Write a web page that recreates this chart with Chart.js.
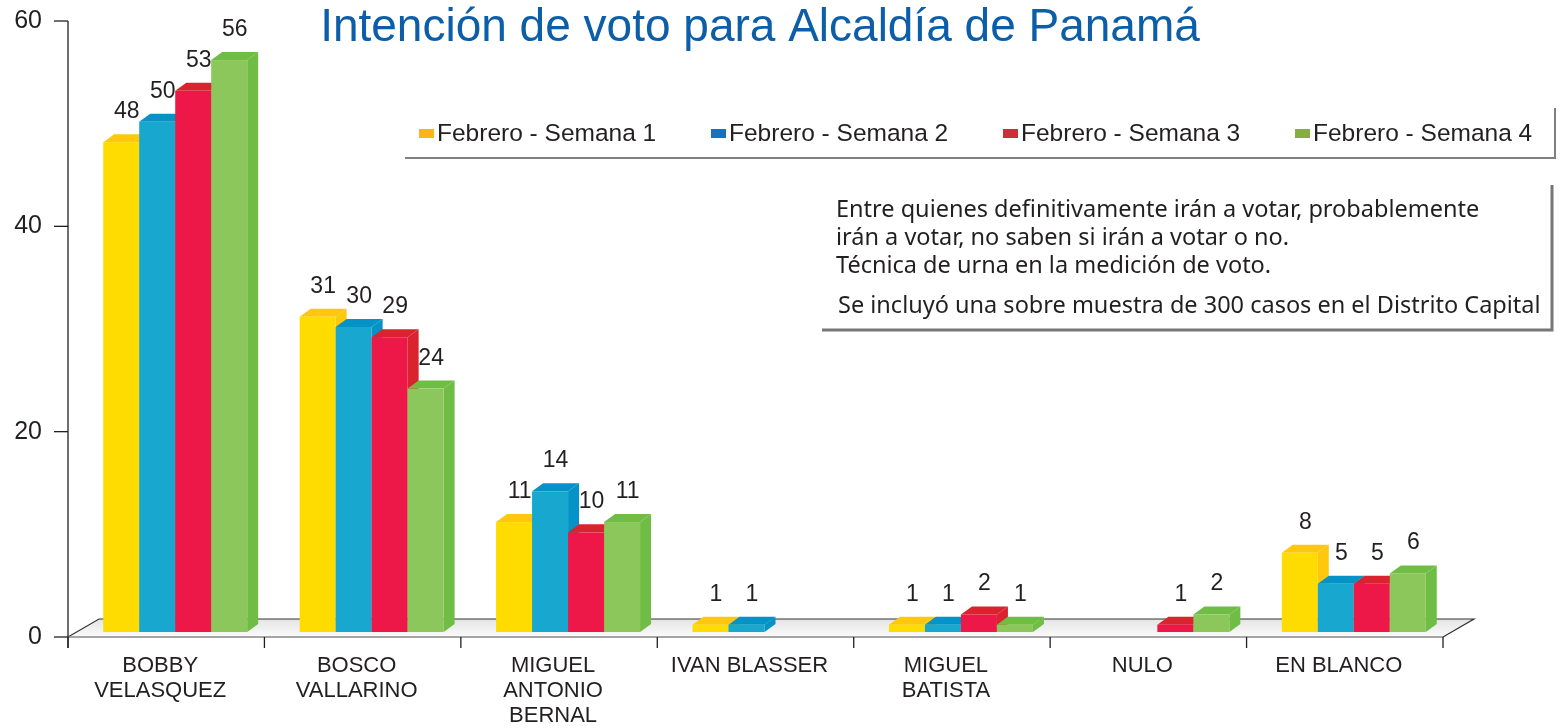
<!DOCTYPE html>
<html>
<head>
<meta charset="utf-8">
<script src="https://cdn.jsdelivr.net/npm/chart.js@4"></script>
<style>
  html, body { margin: 0; padding: 0; background: #fff; }
  #wrap { width: 1564px; height: 728px; position: relative; }
</style>
</head>
<body>
<div id="wrap"><canvas id="chart"></canvas></div>
<script>
// Data
const categories = [
    ['BOBBY', 'VELASQUEZ'],
    ['BOSCO', 'VALLARINO'],
    ['MIGUEL', 'ANTONIO', 'BERNAL'],
    ['IVAN BLASSER'],
    ['MIGUEL', 'BATISTA'],
    ['NULO'],
    ['EN BLANCO']
];
const seriesNames = ['Febrero - Semana 1', 'Febrero - Semana 2', 'Febrero - Semana 3', 'Febrero - Semana 4'];
const semana1 = [48, 31, 11, 1, 1, null, 8];
const semana2 = [50, 30, 14, 1, 1, null, 5];
const semana3 = [53, 29, 10, null, 2, 1, 5];
const semana4 = [56, 24, 11, null, 1, 2, 6];
const yTicks = [0, 20, 40, 60];

const title = 'Intención de voto para Alcaldía de Panamá';
const noteLines = [
    'Entre quienes definitivamente irán a votar, probablemente',
    'irán a votar, no saben si irán a votar o no.',
    'Técnica de urna en la medición de voto.'
];
const noteLast = 'Se incluyó una sobre muestra de 300 casos en el Distrito Capital';

// colours: front, top, side, legend swatch
const palette = [
    { front: '#ffdc00', top: '#ffc80c', side: '#ffc80c', legend: '#fbb616' },
    { front: '#17a7cf', top: '#0592c6', side: '#0592c6', legend: '#1572bb' },
    { front: '#ee1848', top: '#d9232e', side: '#d9232e', legend: '#c9303a' },
    { front: '#8bc75a', top: '#70bd45', side: '#70bd45', legend: '#86ad3f' }
];

const TEXT = '#231f20';
const FONT = '"Liberation Sans", Arial, sans-serif';
const DX = 11, DY = 8;          // bar depth
const FLOOR_DX = 31, FLOOR_DY = 18;
const SHIFT_X = 9, SHIFT_Y = 5; // bars sit a little into the floor

const allSeries = [semana1, semana2, semana3, semana4];

const decorPlugin = {
    id: 'decor',
    beforeDatasetsDraw(chart) {
        const ctx = chart.ctx;
        const area = chart.chartArea;
        const y0 = chart.scales.y.getPixelForValue(0);
        ctx.save();
        // floor
        const grad = ctx.createLinearGradient(0, y0 - FLOOR_DY, 0, y0);
        grad.addColorStop(0, '#e4e4e4');
        grad.addColorStop(1, '#fbfbfb');
        ctx.fillStyle = grad;
        ctx.beginPath();
        ctx.moveTo(area.left, y0);
        ctx.lineTo(area.right, y0);
        ctx.lineTo(area.right + FLOOR_DX, y0 - FLOOR_DY);
        ctx.lineTo(area.left + FLOOR_DX, y0 - FLOOR_DY);
        ctx.closePath();
        ctx.fill();
        ctx.strokeStyle = '#333';
        ctx.lineWidth = 1.2;
        ctx.beginPath();
        ctx.moveTo(area.left, y0);
        ctx.lineTo(area.left + FLOOR_DX, y0 - FLOOR_DY);
        ctx.lineTo(area.right + FLOOR_DX, y0 - FLOOR_DY);
        ctx.lineTo(area.right, y0);
        ctx.stroke();
        ctx.strokeStyle = '#888';
        ctx.lineWidth = 1.5;
        ctx.beginPath();
        ctx.moveTo(area.left, y0);
        ctx.lineTo(area.right, y0);
        ctx.stroke();
        ctx.restore();
    },
    beforeDatasetDraw() {
        return false; // bars are drawn in 3D below
    },
    afterDatasetsDraw(chart) {
        const ctx = chart.ctx;
        ctx.save();
        chart.data.datasets.forEach((ds, di) => {
            const meta = chart.getDatasetMeta(di);
            const col = palette[di];
            meta.data.forEach((el, i) => {
                const v = ds.data[i];
                if (v == null) return;
                const p = el.getProps(['x', 'y', 'base', 'width'], true);
                const left = p.x - p.width / 2 + SHIFT_X;
                const right = left + p.width;
                const top = p.y - 2;
                const bottom = p.base - SHIFT_Y;
                // side
                ctx.fillStyle = col.side;
                ctx.beginPath();
                ctx.moveTo(right, top);
                ctx.lineTo(right + DX, top - DY);
                ctx.lineTo(right + DX, bottom - DY);
                ctx.lineTo(right, bottom);
                ctx.closePath();
                ctx.fill();
                // top
                ctx.fillStyle = col.top;
                ctx.beginPath();
                ctx.moveTo(left, top);
                ctx.lineTo(left + DX, top - DY);
                ctx.lineTo(right + DX, top - DY);
                ctx.lineTo(right, top);
                ctx.closePath();
                ctx.fill();
                // front
                ctx.fillStyle = col.front;
                ctx.fillRect(left, top, p.width, bottom - top);
            });
        });
        // value labels
        ctx.fillStyle = TEXT;
        ctx.font = '23px ' + FONT;
        ctx.textAlign = 'center';
        ctx.textBaseline = 'alphabetic';
        chart.data.datasets.forEach((ds, di) => {
            const meta = chart.getDatasetMeta(di);
            meta.data.forEach((el, i) => {
                const v = ds.data[i];
                if (v == null) return;
                const p = el.getProps(['x', 'y', 'width'], true);
                const cx = p.x + SHIFT_X + DX / 2;
                ctx.fillText(String(v), cx, p.y - 2 - DY - 16);
            });
        });
        ctx.restore();
    },
    afterDraw(chart) {
        const ctx = chart.ctx;
        const area = chart.chartArea;
        const ys = chart.scales.y;
        const xs = chart.scales.x;
        const y0 = ys.getPixelForValue(0);
        ctx.save();

        // y axis
        ctx.strokeStyle = TEXT;
        ctx.lineWidth = 1.3;
        ctx.beginPath();
        ctx.moveTo(area.left, ys.getPixelForValue(60));
        ctx.lineTo(area.left, y0 + 11);
        ctx.stroke();
        ctx.fillStyle = TEXT;
        ctx.font = '25px ' + FONT;
        ctx.textAlign = 'right';
        ctx.textBaseline = 'middle';
        yTicks.forEach(t => {
            const py = ys.getPixelForValue(t);
            ctx.beginPath();
            ctx.moveTo(area.left - 14, py);
            ctx.lineTo(area.left, py);
            ctx.stroke();
            ctx.fillText(String(t), area.left - 26, py);
        });

        // x ticks and category labels
        const n = categories.length;
        const step = (area.right - area.left) / n;
        for (let k = 0; k <= n; k++) {
            const px = area.left + k * step;
            ctx.beginPath();
            ctx.moveTo(px, y0);
            ctx.lineTo(px, y0 + 11);
            ctx.stroke();
        }
        ctx.font = '22px ' + FONT;
        ctx.textAlign = 'center';
        ctx.textBaseline = 'middle';
        categories.forEach((lines, i) => {
            const cx = xs.getPixelForValue(i) - 6;
            lines.forEach((line, j) => {
                ctx.fillText(line, cx, y0 + 29 + j * 25);
            });
        });

        // title
        ctx.fillStyle = '#0d5ea8';
        ctx.font = '46px ' + FONT;
        ctx.textAlign = 'center';
        ctx.textBaseline = 'alphabetic';
        ctx.fillText(title, 760, 41);

        // legend
        ctx.font = '24.5px ' + FONT;
        ctx.textAlign = 'left';
        ctx.textBaseline = 'middle';
        seriesNames.forEach((name, i) => {
            const lx = 419 + i * 292;
            ctx.fillStyle = palette[i].legend;
            ctx.fillRect(lx, 129, 15, 9);
            ctx.fillStyle = TEXT;
            ctx.fillText(name, lx + 18, 134);
        });
        ctx.strokeStyle = '#808080';
        ctx.lineWidth = 2;
        ctx.beginPath();
        ctx.moveTo(405, 158);
        ctx.lineTo(1555, 158);
        ctx.lineTo(1555, 108);
        ctx.stroke();

        // note box
        ctx.fillStyle = TEXT;
        ctx.font = '23.5px "Noto Sans", sans-serif';
        noteLines.forEach((line, i) => {
            ctx.fillText(line, 836, 210 + i * 28);
        });
        ctx.fillText(noteLast, 838, 306);
        ctx.strokeStyle = '#777';
        ctx.lineWidth = 3;
        ctx.beginPath();
        ctx.moveTo(822, 330);
        ctx.lineTo(1552, 330);
        ctx.lineTo(1552, 185);
        ctx.stroke();

        ctx.restore();
    }
};

new Chart(document.getElementById('chart'), {
    type: 'bar',
    data: {
        labels: categories,
        datasets: allSeries.map((values, i) => ({
            label: seriesNames[i],
            data: values,
            backgroundColor: palette[i].front,
            borderWidth: 0,
            categoryPercentage: 0.733,
            barPercentage: 1.0
        }))
    },
    options: {
        responsive: true,
        maintainAspectRatio: false,
        animation: false,
        layout: {
            padding: { left: 68, right: 121, top: 21, bottom: 91 }
        },
        plugins: {
            legend: { display: false },
            title: { display: false },
            tooltip: { enabled: false }
        },
        scales: {
            x: { display: false, grid: { display: false } },
            y: { display: false, min: 0, max: 60, grid: { display: false } }
        }
    },
    plugins: [decorPlugin]
});
</script>
</body>
</html>
